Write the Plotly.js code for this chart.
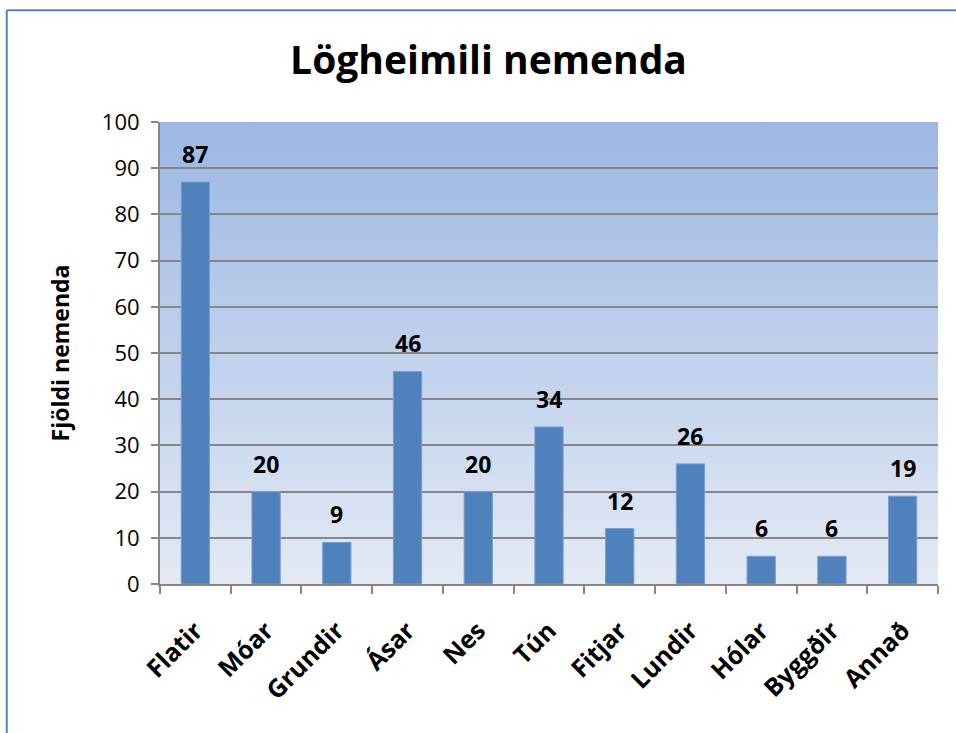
<!DOCTYPE html>
<html>
<head>
<meta charset="utf-8">
<script src="https://cdn.plot.ly/plotly-3.0.1.min.js"></script>
<style>
  html, body { margin: 0; padding: 0; background: #ffffff; }
  #chart { width: 956px; height: 733px; }
</style>
</head>
<body>
<div id="chart"></div>
<script>
var stadir = ['Flatir', 'Móar', 'Grundir', 'Ásar', 'Nes', 'Tún', 'Fitjar', 'Lundir', 'Hólar', 'Byggðir', 'Annað'];
var fjoldi = [87, 20, 9, 46, 20, 34, 12, 26, 6, 6, 19];
var yTicks = [0, 10, 20, 30, 40, 50, 60, 70, 80, 90, 100];

var font = 'Open Sans, Noto Sans, sans-serif';

// blue gradient behind the plot area (as in the Excel original)
var grad = '<svg xmlns="http://www.w3.org/2000/svg" width="100" height="100" preserveAspectRatio="none">' +
  '<defs><linearGradient id="g" x1="0" y1="0" x2="0" y2="1">' +
  '<stop offset="0" stop-color="#9bb7e3"/><stop offset="1" stop-color="#e4eaf5"/>' +
  '</linearGradient></defs><rect width="100" height="100" fill="url(#g)"/></svg>';

var trace = {
  type: 'bar',
  x: stadir,
  y: fjoldi,
  marker: { color: '#4f81bd', line: { color: '#7b9fd0', width: 1 } },
  hoverinfo: 'x+y'
};

var labels = stadir.map(function (s, i) {
  return {
    x: s, y: fjoldi[i], xref: 'x', yref: 'y',
    text: '<b>' + fjoldi[i] + '</b>', showarrow: false,
    yanchor: 'bottom', yshift: 10,
    font: { family: font, size: 23, color: '#000' }
  };
});

var layout = {
  width: 956,
  height: 733,
  margin: { l: 160, r: 18, t: 122, b: 149 },
  paper_bgcolor: '#ffffff',
  plot_bgcolor: 'rgba(0,0,0,0)',
  showlegend: false,
  bargap: 0.6,
  title: {
    text: '<b>Lögheimili nemenda</b>',
    font: { family: font, size: 39, color: '#000' },
    x: 0.511, xanchor: 'center', y: 0.918, yanchor: 'middle'
  },
  xaxis: {
    type: 'category',
    tickangle: -45,
    tickson: 'boundaries',
    ticks: 'outside', ticklen: 8, tickcolor: '#868686', tickwidth: 2,
    ticklabelstandoff: 20,
    showline: true, linecolor: '#868686', linewidth: 2,
    showgrid: false,
    tickfont: { family: font, size: 25, color: '#000', weight: 'bold' }
  },
  yaxis: {
    range: [0, 100],
    tickvals: yTicks,
    ticks: 'outside', ticklen: 7, tickcolor: '#868686', tickwidth: 2,
    ticklabelstandoff: 7,
    showline: true, linecolor: '#868686', linewidth: 2,
    gridcolor: '#868686', gridwidth: 2,
    zeroline: false,
    tickfont: { family: font, size: 22, color: '#000' },
    title: {
      text: '<b>Fjöldi nemenda</b>',
      font: { family: font, size: 23, color: '#000' },
      standoff: 26
    }
  },
  images: [{
    source: 'data:image/svg+xml;charset=utf-8,' + encodeURIComponent(grad),
    xref: 'paper', yref: 'paper', x: 0, y: 1, sizex: 1, sizey: 1,
    xanchor: 'left', yanchor: 'top', sizing: 'stretch', layer: 'below'
  }],
  shapes: [
    { type: 'line', xref: 'paper', yref: 'paper', x0: -0.197, x1: -0.197, y0: -0.33, y1: 1.242,
      line: { color: '#4f81bd', width: 2 } },
    { type: 'line', xref: 'paper', yref: 'paper', x0: -0.197, x1: 1.03, y0: 1.242, y1: 1.242,
      line: { color: '#4f81bd', width: 2 } }
  ],
  annotations: labels
};

Plotly.newPlot('chart', [trace], layout, { displayModeBar: false, staticPlot: true });
</script>
</body>
</html>
